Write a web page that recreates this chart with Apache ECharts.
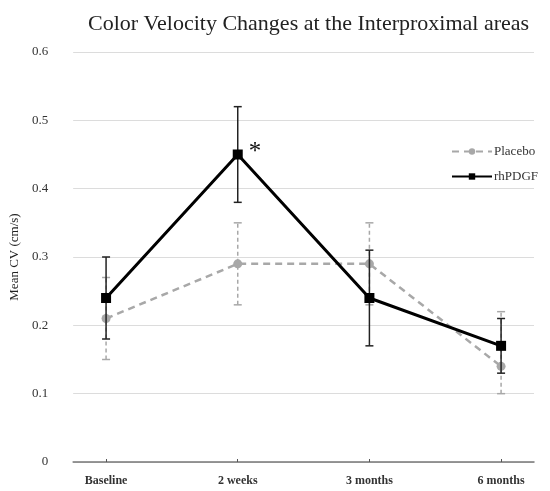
<!doctype html>
<html lang="en">
<head>
    <meta charset="UTF-8">
    <script src="https://cdn.jsdelivr.net/npm/echarts@6/dist/echarts.min.js"></script>
    <title>Color Velocity Changes</title>
    <style>
        html, body { margin: 0; padding: 0; background: #fff; }
    </style>
</head>
<body>
<div id="main" style="width: 550px;height:491px;"></div>
<script>
    // data
    var categories = ['Baseline', '2 weeks', '3 months', '6 months'];
    var placeboMean = [0.21, 0.29, 0.29, 0.14];
    var placeboLow = [0.15, 0.23, 0.23, 0.10];
    var placeboHigh = [0.27, 0.35, 0.35, 0.22];
    var rhMean = [0.24, 0.45, 0.24, 0.17];
    var rhLow = [0.18, 0.38, 0.17, 0.13];
    var rhHigh = [0.30, 0.52, 0.31, 0.21];
    var yTicks = [0, 0.1, 0.2, 0.3, 0.4, 0.5, 0.6];
    var starIndex = 1;

    var serif = '"Liberation Serif", "DejaVu Serif", serif';
    var catIdx = categories.map(function (c, i) { return i; });

    function points(vals, withStar) {
        return vals.map(function (v, i) {
            var item = { value: [i, v] };
            if (withStar && i === starIndex) {
                item.label = {
                    show: true, formatter: '*', position: 'right', distance: 6, offset: [0, -2],
                    fontSize: 25, color: '#111', fontFamily: serif
                };
            }
            return item;
        });
    }
    function bars(low, high) {
        return low.map(function (l, i) { return [i, l, high[i]]; });
    }
    function errorBar(color, dashed, width) {
        return function (params, api) {
            var x = api.value(0);
            var lo = api.coord([x, api.value(1)]);
            var hi = api.coord([x, api.value(2)]);
            var cap = 4;
            var style = { stroke: color, lineWidth: width, lineDash: dashed ? [4, 3] : null };
            return {
                type: 'group',
                children: [
                    { type: 'line', shape: { x1: lo[0], y1: lo[1], x2: hi[0], y2: hi[1] }, style: style },
                    { type: 'line', shape: { x1: lo[0] - cap, y1: lo[1], x2: lo[0] + cap, y2: lo[1] }, style: { stroke: color, lineWidth: width } },
                    { type: 'line', shape: { x1: hi[0] - cap, y1: hi[1], x2: hi[0] + cap, y2: hi[1] }, style: { stroke: color, lineWidth: width } }
                ]
            };
        };
    }

    var myChart = echarts.init(document.getElementById('main'));
    var option = {
        backgroundColor: '#fff',
        animation: false,
        title: {
            text: 'Color Velocity Changes at the Interproximal areas',
            left: 83, top: 8,
            textStyle: { fontFamily: serif, fontSize: 22, fontWeight: 'normal', color: '#222' }
        },
        legend: {
            orient: 'vertical',
            left: 446, top: 140,
            itemWidth: 40, itemHeight: 8, itemGap: 12,
            textStyle: { fontFamily: serif, fontSize: 13, color: '#333', padding: [0, 0, 0, -3] },
            data: ['Placebo', 'rhPDGF']
        },
        grid: { left: 72, right: 16, top: 52, bottom: 29 },
        xAxis: {
            type: 'value',
            min: -0.25, max: 3.25,
            axisLine: { show: true, lineStyle: { color: '#777', width: 1.5 } },
            axisTick: { show: true, customValues: catIdx, length: 3, inside: true, lineStyle: { color: '#555' } },
            axisLabel: {
                customValues: catIdx,
                formatter: function (v) { return categories[Math.round(v)]; },
                fontFamily: serif, fontSize: 12, fontWeight: 'bold', color: '#333', margin: 13
            },
            splitLine: { show: false }
        },
        yAxis: {
            type: 'value',
            min: yTicks[0], max: yTicks[yTicks.length - 1], interval: 0.1,
            name: 'Mean CV (cm/s)',
            nameLocation: 'middle', nameGap: 48,
            nameTextStyle: { fontFamily: serif, fontSize: 13, color: '#222' },
            axisLine: { show: false },
            axisTick: { show: false },
            axisLabel: {
                fontFamily: serif, fontSize: 13, color: '#333', margin: 25,
                formatter: function (v) { return String(Math.round(v * 10) / 10); }
            },
            splitLine: { lineStyle: { color: '#dcdcdc', width: 1 } }
        },
        series: [
            {
                name: 'Placebo error', type: 'custom', z: 2,
                renderItem: errorBar('#a8a8a8', true, 1.5),
                data: bars(placeboLow, placeboHigh),
                encode: { x: 0, y: [1, 2] }
            },
            {
                name: 'Placebo', type: 'line', z: 3,
                data: points(placeboMean, false),
                symbol: 'circle', symbolSize: 9,
                itemStyle: { color: '#a8a8a8' },
                lineStyle: { color: '#a8a8a8', width: 2.5, type: [7, 5] }
            },
            {
                name: 'rhPDGF error', type: 'custom', z: 4,
                renderItem: errorBar('#222', false, 1.5),
                data: bars(rhLow, rhHigh),
                encode: { x: 0, y: [1, 2] }
            },
            {
                name: 'rhPDGF', type: 'line', z: 5,
                data: points(rhMean, true),
                symbol: 'rect', symbolSize: 10,
                itemStyle: { color: '#000' },
                lineStyle: { color: '#000', width: 3 }
            }
        ]
    };
    myChart.setOption(option);
</script>
</body>
</html>
